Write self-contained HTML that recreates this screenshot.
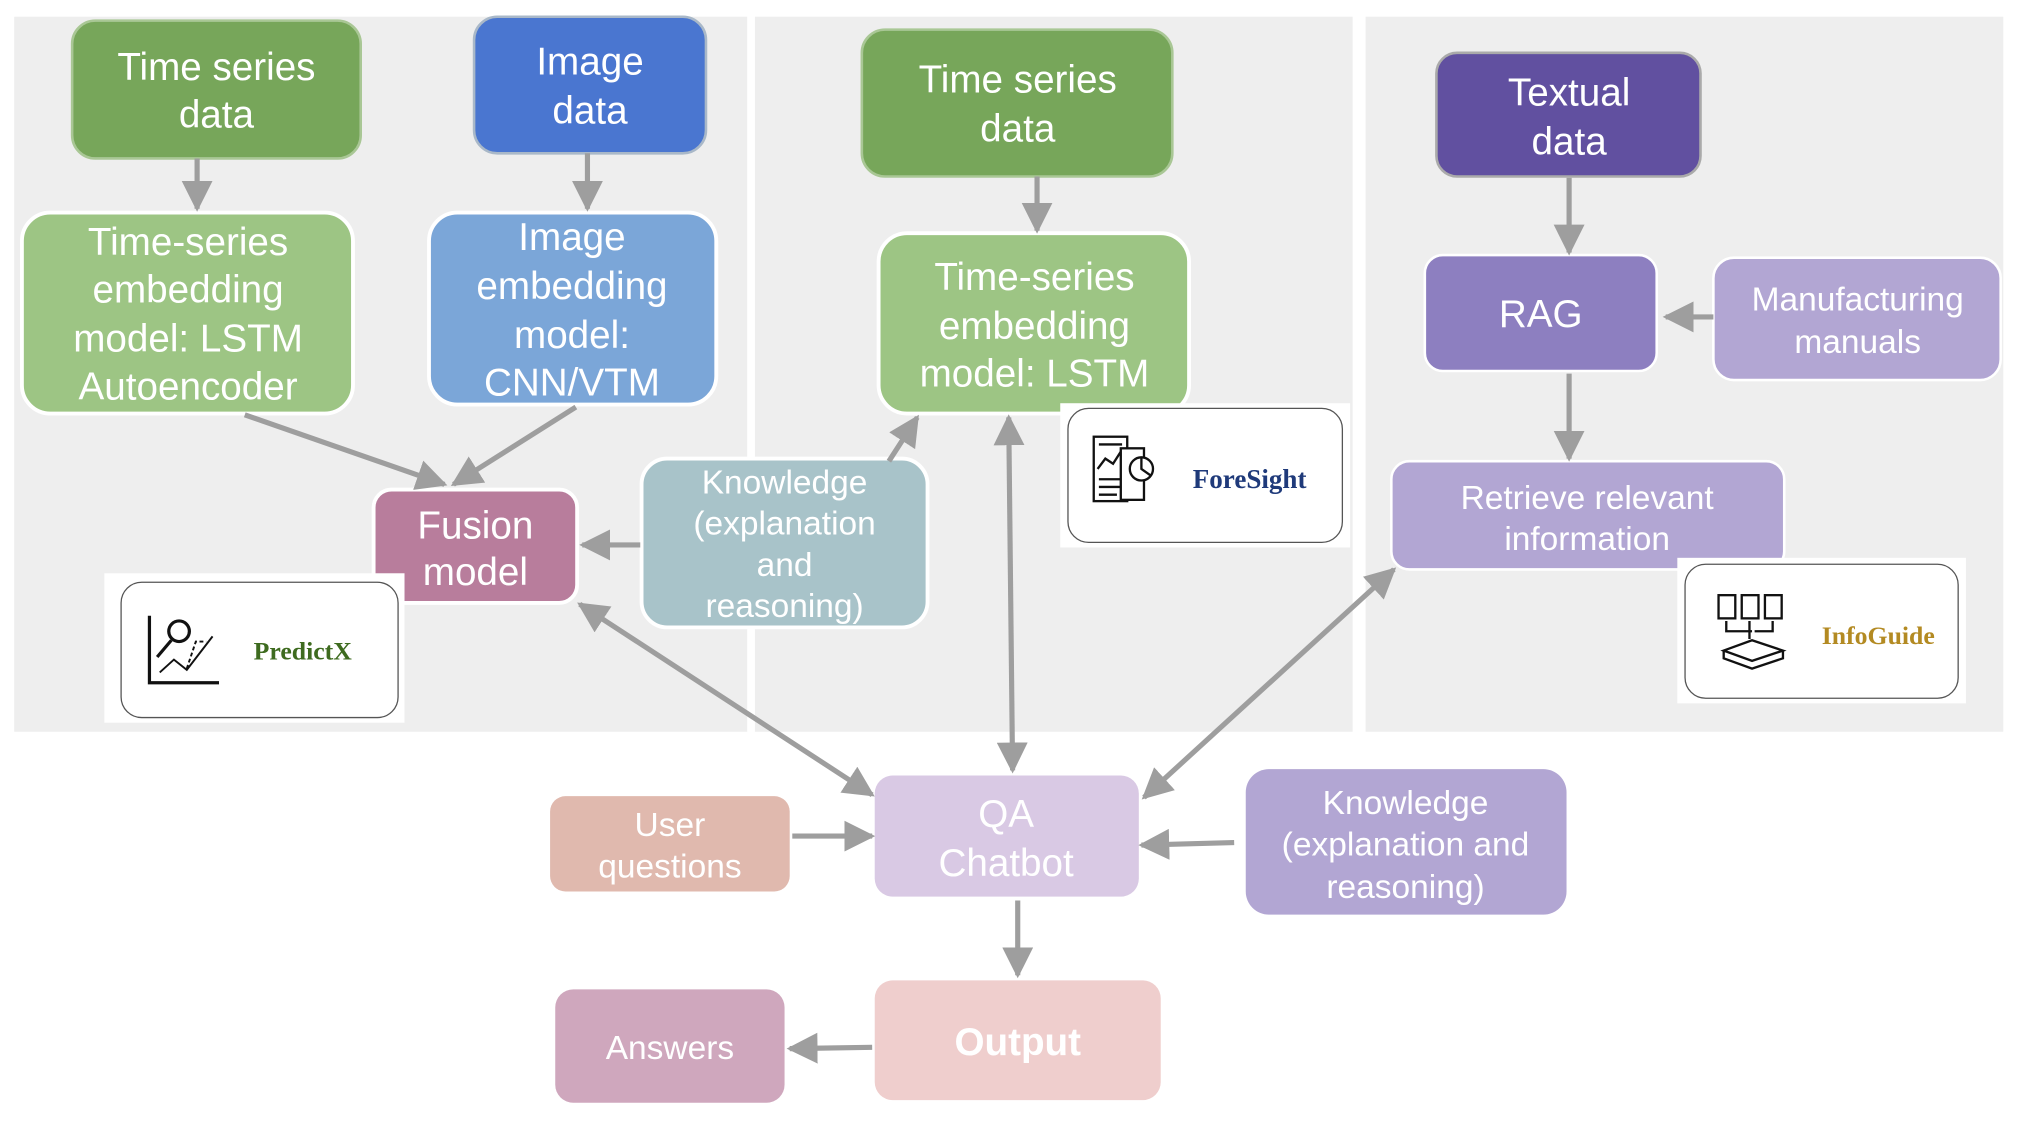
<!DOCTYPE html>
<html><head><meta charset="utf-8"><style>
html,body{margin:0;padding:0;background:#fff}
svg{display:block}
text{font-family:"Liberation Sans",sans-serif;fill:#fff;text-anchor:middle}
text.serif{font-family:"Liberation Serif","DejaVu Serif",serif;font-weight:bold}
</style></head><body>
<svg width="2020" height="1124" viewBox="0 0 1568 872.5" preserveAspectRatio="none" xmlns="http://www.w3.org/2000/svg">
<defs>
<marker id="a" viewBox="0 0 10 10" refX="9" refY="5" markerWidth="6" markerHeight="6" markerUnits="strokeWidth" orient="auto-start-reverse"><path d="M0,0 L10,5 L0,10 z" fill="#9e9e9e"/></marker>
</defs>
<rect x="11" y="13" width="569" height="555" fill="#eeeeee"/>
<rect x="586" y="13" width="464" height="555" fill="#eeeeee"/>
<rect x="1060" y="13" width="495" height="555" fill="#eeeeee"/>

<g font-size="30">
<rect x="56" y="16" width="224" height="107" rx="18" fill="#77a65a" stroke="#a9c795" stroke-width="2"/>
<text x="168" y="62">Time series</text><text x="168" y="99">data</text>
<rect x="368" y="13" width="180" height="106" rx="18" fill="#4a76d0" stroke="#a9b8c8" stroke-width="2"/>
<text x="458" y="58">Image</text><text x="458" y="96">data</text>
<rect x="17" y="165" width="257" height="156" rx="22" fill="#9dc584" stroke="#fff" stroke-width="3"/>
<text x="146" y="198">Time-series</text><text x="146" y="235">embedding</text><text x="146" y="273">model: LSTM</text><text x="146" y="310">Autoencoder</text>
<rect x="333" y="165" width="223" height="149" rx="22" fill="#7ba6d8" stroke="#fff" stroke-width="3"/>
<text x="444" y="194">Image</text><text x="444" y="232">embedding</text><text x="444" y="270">model:</text><text x="444" y="307">CNN/VTM</text>
<rect x="290" y="380" width="158" height="88" rx="14" fill="#b87d9c" stroke="#fff" stroke-width="3"/>
<text x="369" y="418">Fusion</text><text x="369" y="454">model</text>
<rect x="669" y="23" width="241" height="114" rx="18" fill="#77a65a" stroke="#a9c795" stroke-width="2"/>
<text x="790" y="72">Time series</text><text x="790" y="110">data</text>
<rect x="682" y="181" width="241" height="140" rx="22" fill="#9dc584" stroke="#fff" stroke-width="3"/>
<text x="803" y="225">Time-series</text><text x="803" y="263">embedding</text><text x="803" y="300">model: LSTM</text>
<rect x="1115" y="41" width="205" height="96" rx="16" fill="#6150a0" stroke="#aaa" stroke-width="2"/>
<text x="1218" y="82">Textual</text><text x="1218" y="120">data</text>
<rect x="1106" y="198" width="180" height="90" rx="14" fill="#8d7fc0" stroke="#fff" stroke-width="2"/>
<text x="1196" y="254">RAG</text>
<rect x="679" y="602" width="205" height="94" rx="14" fill="#d9c9e4"/>
<text x="781" y="642">QA</text><text x="781" y="680">Chatbot</text>
<rect x="679" y="761" width="222" height="93" rx="14" fill="#efcecd"/>
<text x="790" y="819" font-weight="bold">Output</text>
</g>
<g font-size="26">
<rect x="498" y="356" width="222" height="131" rx="20" fill="#a8c3c9" stroke="#fff" stroke-width="3"/>
<text x="609" y="383">Knowledge</text><text x="609" y="415">(explanation</text><text x="609" y="447">and</text><text x="609" y="479">reasoning)</text>
<rect x="1330" y="200" width="223" height="95" rx="16" fill="#b2a6d3" stroke="#fff" stroke-width="2"/>
<text x="1442" y="241">Manufacturing</text><text x="1442" y="274">manuals</text>
<rect x="1080" y="358" width="305" height="84" rx="14" fill="#b2a6d3" stroke="#fff" stroke-width="2"/>
<text x="1232" y="395">Retrieve relevant</text><text x="1232" y="427">information</text>
<rect x="427" y="618" width="186" height="74" rx="12" fill="#e0b9ae"/>
<text x="520" y="649">User</text><text x="520" y="681">questions</text>
<rect x="967" y="597" width="249" height="113" rx="18" fill="#b2a6d3"/>
<text x="1091" y="632">Knowledge</text><text x="1091" y="664">(explanation and</text><text x="1091" y="697">reasoning)</text>
<rect x="431" y="768" width="178" height="88" rx="14" fill="#cfa7bd"/>
<text x="520" y="822">Answers</text>
</g>

<rect x="81" y="445" width="233" height="116" fill="#fff"/>
<rect x="94" y="452" width="215" height="105" rx="16" fill="#fff" stroke="#555" stroke-width="1"/>
<g stroke="#111" fill="none" stroke-width="2.5">
<path d="M116,478 V530 H170"/>
<circle cx="139" cy="490" r="8"/><path d="M133,497 L122,510"/>
<path d="M124,522 L135,512 L145,520 L155,507 L165,494" stroke-width="1.5"/>
<path d="M145,519 L152,498 L160,498" stroke-dasharray="3 2" stroke-width="1.5"/>
</g>
<text class="serif" x="235" y="512" font-size="20" style="fill:#3e6b1f">PredictX</text>

<rect x="823" y="313" width="225" height="112" fill="#fff"/>
<rect x="829" y="317" width="213" height="104" rx="16" fill="#fff" stroke="#555" stroke-width="1"/>
<g stroke="#111" fill="none" stroke-width="1.8">
<rect x="849" y="339" width="26" height="50"/><path d="M853,345 h18 M853,372 h18 M853,378 h18 M853,384 h14"/>
<path d="M852,364 L858,356 L864,360 L871,349"/>
<rect x="870" y="348" width="18" height="40" fill="#fff"/><circle cx="886" cy="364" r="9" fill="#fff"/><path d="M886,355 V364 L893,369"/>
</g>
<text class="serif" x="970" y="379" font-size="21" style="fill:#1f3a7a">ForeSight</text>

<rect x="1302" y="433" width="224" height="113" fill="#fff"/>
<rect x="1308" y="438" width="212" height="104" rx="16" fill="#fff" stroke="#555" stroke-width="1"/>
<g stroke="#111" fill="none" stroke-width="1.8">
<rect x="1334" y="462" width="13" height="18"/><rect x="1352" y="462" width="13" height="18"/><rect x="1370" y="462" width="13" height="18"/>
<path d="M1340,482 v8 h20 M1358,482 v14 M1376,482 v8 h-14"/>
<path d="M1338,505 L1360,497 L1384,505 L1360,513 Z M1338,505 v6 L1360,519 L1384,511 v-6"/>
</g>
<text class="serif" x="1458" y="500" font-size="20" style="fill:#b38a22">InfoGuide</text>

<g stroke="#9e9e9e" stroke-width="4" fill="none">
<line x1="153" y1="123" x2="153" y2="162" marker-end="url(#a)"/>
<line x1="456" y1="119" x2="456" y2="162" marker-end="url(#a)"/>
<line x1="190" y1="322" x2="345" y2="376" marker-end="url(#a)"/>
<line x1="447" y1="316" x2="352" y2="376" marker-end="url(#a)"/>
<line x1="497" y1="423" x2="452" y2="423" marker-end="url(#a)"/>
<line x1="690" y1="358" x2="712" y2="324" marker-end="url(#a)"/>
<line x1="805" y1="137" x2="805" y2="179" marker-end="url(#a)"/>
<line x1="1218" y1="138" x2="1218" y2="196" marker-end="url(#a)"/>
<line x1="1330" y1="246" x2="1293" y2="246" marker-end="url(#a)"/>
<line x1="1218" y1="290" x2="1218" y2="356" marker-end="url(#a)"/>
<line x1="450" y1="469" x2="677" y2="617" marker-start="url(#a)" marker-end="url(#a)"/>
<line x1="783" y1="324" x2="786" y2="598" marker-start="url(#a)" marker-end="url(#a)"/>
<line x1="1082" y1="442" x2="888" y2="619" marker-start="url(#a)" marker-end="url(#a)"/>
<line x1="615" y1="649" x2="677" y2="649" marker-end="url(#a)"/>
<line x1="958" y1="654" x2="886" y2="656" marker-end="url(#a)"/>
<line x1="790" y1="699" x2="790" y2="757" marker-end="url(#a)"/>
<line x1="677" y1="813" x2="613" y2="814" marker-end="url(#a)"/>
</g>
</svg>
</body></html>
